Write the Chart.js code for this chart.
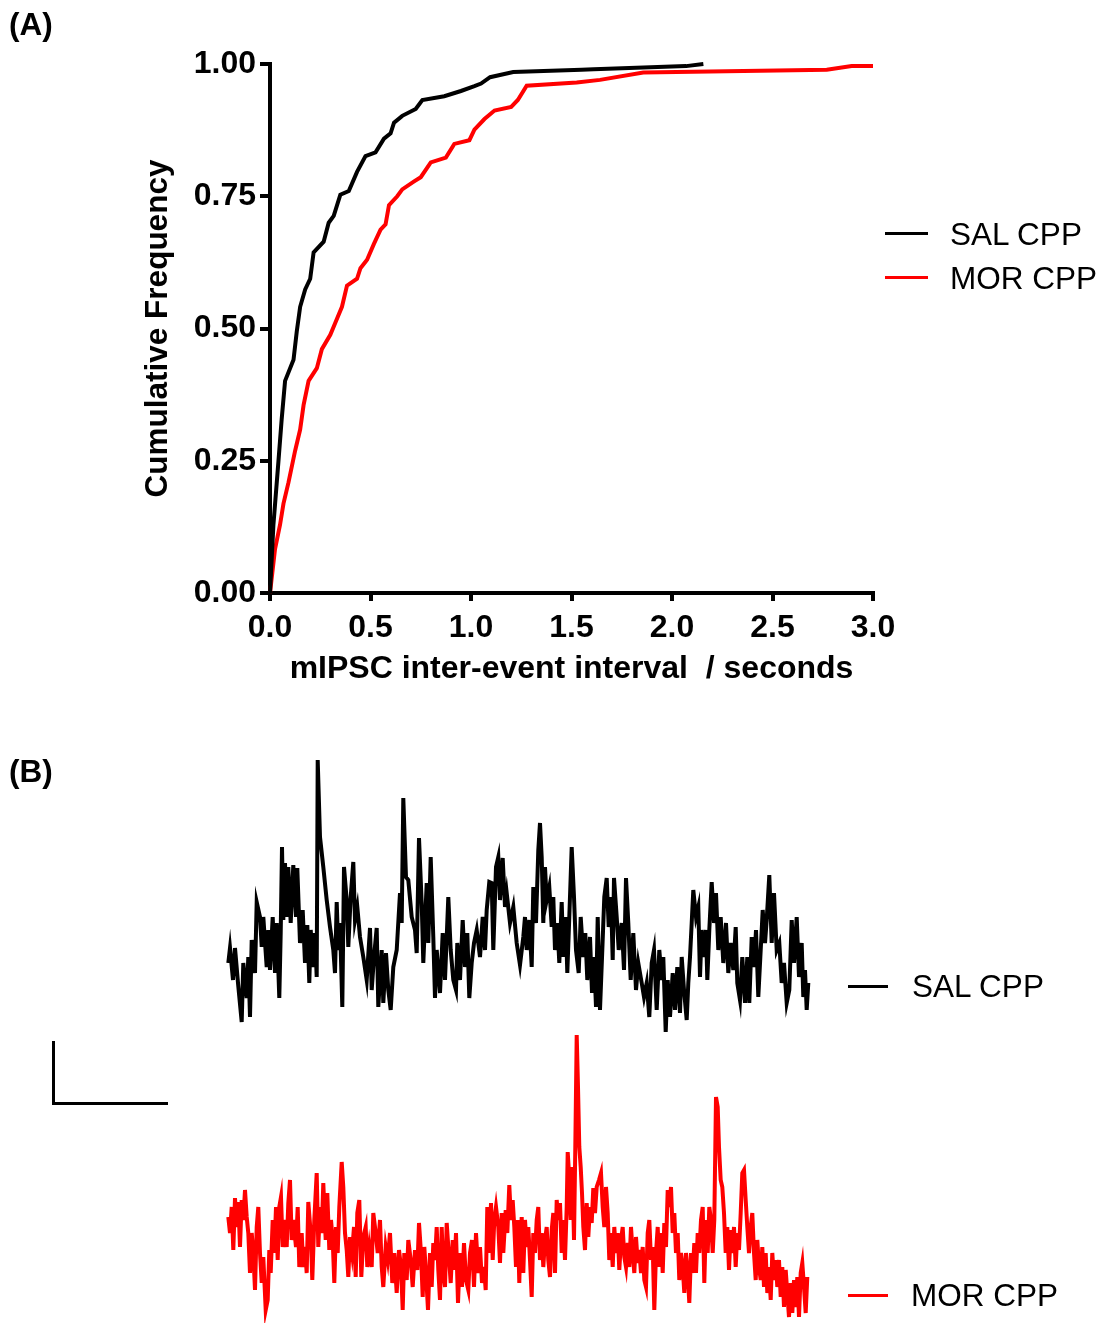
<!DOCTYPE html>
<html>
<head>
<meta charset="utf-8">
<script src="https://cdn.jsdelivr.net/npm/chart.js@4.4.1/dist/chart.umd.min.js"></script>
<style>
  html, body { margin: 0; padding: 0; background: #fff; }
  #wrap { position: relative; width: 1101px; height: 1323px; overflow: hidden; font-family: "Liberation Sans", Arial, sans-serif; }
  canvas { position: absolute; left: 0; }
  .lbl { position: absolute; font-size: 31.5px; line-height: 36px; color: #000; white-space: pre; }
  .bold { font-weight: bold; }
  .bar { position: absolute; }
</style>
</head>
<body>
<div id="wrap">
  <canvas id="chartA" width="1101" height="700" style="top:0"></canvas>
  <canvas id="chartB" width="1101" height="623" style="top:700px"></canvas>

  <div class="lbl bold" style="left:9px; top:6px;">(A)</div>
  <div class="lbl bold" style="left:9px; top:753px;">(B)</div>

  <!-- legend, panel A -->
  <div class="bar" style="left:885px; top:232px; width:43px; height:3px; background:#000;"></div>
  <div class="lbl" style="left:950px; top:216px;">SAL CPP</div>
  <div class="bar" style="left:885px; top:276px; width:43px; height:3px; background:#ff0000;"></div>
  <div class="lbl" style="left:950px; top:260px;">MOR CPP</div>

  <!-- legend, panel B -->
  <div class="bar" style="left:848px; top:985px; width:40px; height:3px; background:#000;"></div>
  <div class="lbl" style="left:912px; top:968px;">SAL CPP</div>
  <div class="bar" style="left:848px; top:1294px; width:40px; height:3px; background:#ff0000;"></div>
  <div class="lbl" style="left:911px; top:1277px;">MOR CPP</div>

  <!-- scale bar -->
  <div class="bar" style="left:52px; top:1041px; width:3px; height:64px; background:#000;"></div>
  <div class="bar" style="left:52px; top:1102px; width:116px; height:3px; background:#000;"></div>
</div>

<script>
// ---------- Panel A: cumulative frequency ----------
const salInterval = [0, 0.017, 0.042, 0.058, 0.075, 0.117, 0.133, 0.150, 0.175, 0.200, 0.217, 0.267, 0.292, 0.317, 0.350, 0.392, 0.433, 0.475, 0.525, 0.567, 0.600, 0.617, 0.658, 0.725, 0.758, 0.867, 0.950, 1.017, 1.050, 1.095, 1.210, 1.550, 1.610, 2.070, 2.156];
const salCumFreq = [0, 0.129, 0.249, 0.328, 0.401, 0.441, 0.494, 0.541, 0.574, 0.594, 0.644, 0.664, 0.700, 0.713, 0.753, 0.760, 0.796, 0.826, 0.833, 0.859, 0.869, 0.889, 0.902, 0.915, 0.932, 0.939, 0.949, 0.958, 0.963, 0.975, 0.985, 0.989, 0.990, 0.996, 1.000];

const morInterval = [0, 0.025, 0.050, 0.067, 0.092, 0.125, 0.150, 0.167, 0.192, 0.233, 0.258, 0.300, 0.325, 0.358, 0.383, 0.433, 0.450, 0.483, 0.517, 0.550, 0.575, 0.592, 0.633, 0.658, 0.717, 0.750, 0.800, 0.875, 0.917, 0.992, 1.017, 1.067, 1.117, 1.200, 1.233, 1.277, 1.526, 1.642, 1.857, 2.770, 2.894, 3.000];
const morCumFreq = [0, 0.083, 0.129, 0.169, 0.209, 0.269, 0.309, 0.355, 0.401, 0.425, 0.461, 0.488, 0.511, 0.541, 0.581, 0.594, 0.614, 0.630, 0.660, 0.687, 0.697, 0.733, 0.750, 0.763, 0.778, 0.786, 0.814, 0.823, 0.849, 0.856, 0.876, 0.896, 0.912, 0.919, 0.932, 0.959, 0.965, 0.970, 0.984, 0.989, 0.996, 0.996];

const xTickValues = [0, 0.5, 1.0, 1.5, 2.0, 2.5, 3.0];
const yTickValues = [0, 0.25, 0.5, 0.75, 1.0];

// ---------- Panel B: example traces (time, amplitude) ----------
const salTime = [0.3,2,5,7,10,13.7,15.3,18.7,20.3,22,23.7,27,28.7,32,33.7,35.3,38.7,40.3,42,44.7,47,48.7,51.3,52.7,54,55.3,57,58.7,60.3,62.7,65.3,68,69.3,72,74.7,77,79.3,81.3,82.7,85.3,87,88.7,89.7,92,95.3,98.7,102,105.3,107,108.7,110.3,112,114.3,116,118.7,120.3,122.7,125.3,127,129.3,132,135.3,138.7,142,143.7,146,148.7,150.3,153.7,155.3,158,160.3,162.7,165.3,168.7,172,173.7,175.3,178,180.3,183.7,187,188.7,191,193.7,195.3,198.7,200.3,202.7,205.3,207,208.7,212,214.7,217,220.3,222.7,225.3,228,229.3,232,234.7,237,239.3,241.3,243.7,246,248.7,252,254.7,257,258.7,261.3,263.7,265.3,268,270.3,272,274.7,277,278.7,282,285.3,288.7,292,295.3,297,298.7,301.3,303.7,305.3,308,310.3,312,313.7,315.3,317,318.7,321.3,323.7,325.3,327,329.3,331.3,333.7,335.3,337.7,339.3,341.3,343.7,346,348,350.7,352.7,355.3,357.3,359.3,362,364,366,368,369.7,372,374.3,376.3,378.7,380.7,383,384.7,386,388.7,390.7,393.7,396,398,400.3,402.7,405.3,408,410.3,413.7,416,418.7,421.3,423.7,426,428.7,431.3,433.7,435.3,437.7,439.7,442,444.7,447,449.3,452,453.7,456,458.7,460.3,462,463.7,465.3,468,470.3,472,473.7,476,478,479.3,481.3,483.7,486,488,490.3,492.7,495.3,498,500.3,502.7,505.3,507.7,509.3,512,514.3,517,519.3,521.3,523.7,526,528,530.3,532.7,534.7,537,538.7,541.3,543.7,546,548.7,551.3,553.7,556,558.7,561.3,563.7,566,568.7,571,573.7,575.3,577,578.7,580.3];
const salAmp = [77,92,60,92,57,18,77,42,83,23,100,67,138,123,93,123,73,110,70,123,67,117,42,107,193,120,177,123,173,117,175,123,172,97,130,77,115,57,110,73,107,63,280,203,173,140,113,90,67,138,90,117,33,173,140,93,143,178,120,133,103,83,60,112,50,83,112,33,90,37,87,50,30,73,90,147,117,242,163,160,123,110,87,202,137,77,157,97,183,103,42,90,47,107,60,143,90,60,50,97,60,120,73,107,42,77,97,110,83,123,90,130,158,157,90,173,183,140,182,133,147,117,133,97,75,103,123,90,120,73,153,117,190,217,183,117,173,140,153,113,143,90,117,77,138,83,123,67,123,193,143,90,67,123,83,107,60,103,47,83,33,123,30,90,143,162,113,143,80,162,123,90,117,70,162,117,60,107,50,77,57,43,57,23,77,90,30,90,60,83,8,60,23,67,30,73,27,83,50,20,57,83,117,150,123,133,63,110,83,110,60,110,158,117,147,90,123,77,117,67,97,70,113,57,40,83,37,83,37,103,73,110,43,90,130,97,120,165,97,147,90,97,57,77,37,50,120,77,123,63,97,43,70,30,57];

const morTime = [0.3,2,3.7,5.3,7,8.7,10.3,12,13.7,15.3,17,18.7,20.3,22,23.7,25.3,27,28.7,30.3,32,33.7,35.3,37.7,39.7,41.3,42.7,44.7,46.3,48,49.7,51.3,53,54.7,57,58.7,60.3,62,63.7,65.3,68,69.7,71.3,73.7,75.3,77,78.7,80.3,82.7,84.3,86.3,88.7,90.3,92,93.7,95.3,97.7,99.3,101.3,103,104.7,106.3,108,109.7,111.3,113.7,115.3,117,118.7,120.3,122,124,126,127.7,129.3,131.3,133.3,135.3,137.7,139.3,141.3,143.7,145.3,147.7,149.7,152,153.7,155.3,157.7,159.7,162,164.3,166.3,168.7,171,173,174.7,176.3,178.7,180.3,182.7,184.7,187,189.3,191,193,194.7,196.3,198,200,202,203.7,205.3,207,208.7,210.3,212,213.7,215.3,217,218.7,220.7,222.7,224.7,226.3,228,230,232,234,236,238,240.3,242,244,246,248,250.3,252,254,256,257.7,259.3,261.3,263,264.7,266.3,268,270.3,272,273.7,275.3,277.7,279.3,281.3,283,284.7,286.3,288,289.7,291.3,292,293.7,295.3,297,298.7,300.3,302,303.7,305.3,307,308.7,310.3,312,313.7,315.3,317,318.7,320.3,322,323.7,325.3,327,328.7,330.3,332,333.7,335.3,337,338.7,339.7,341,342.7,344.3,346,347.3,348.7,350,351.3,352.7,354,355.3,357,358.7,360.3,362,363.7,365.3,367,368.7,371,373,374.7,376.3,378,379.7,381.3,383,384.7,386.3,388,389.7,391.3,393,394.7,396.3,398,399.7,401.3,403,404.7,406.3,408,409.7,411.3,413,414.7,416.3,418,419.7,421.3,423,424.7,426.3,428,429.7,431.3,433,434.7,436.3,438,439.7,441.3,443,444.7,446.3,448,449.7,451.3,453,454.7,456.3,458,459.7,461.3,463,464.7,466.3,468,469.7,471.3,473,474.7,476.3,478,479.7,481.3,483,484.7,486.3,488,489.7,491,492.7,494.3,496,497.7,499.3,501,502.7,504.3,506,507.7,509.3,511,512.7,514.3,516,517.7,519.3,521,522.7,524.3,526,527.7,529.3,531,532.7,534.3,536,537.7,539.3,541,542.7,544.3,546,547.7,549.3,551,552.7,554.3,556,557.7,559.3,561,562.7,564.3,566,567.7,569.3,571,572.7,574.3,576,577.7,579.3];
const morAmp = [113,97,123,80,132,103,128,83,130,110,140,113,97,57,97,77,40,103,123,77,47,73,20,30,80,57,110,77,123,70,123,133,83,110,83,127,150,90,110,83,123,63,97,63,83,57,128,97,50,110,157,83,123,97,147,90,137,80,110,90,47,103,77,123,168,143,97,80,53,93,77,103,53,117,130,53,93,103,63,83,63,117,97,77,110,63,43,83,70,97,47,77,37,80,63,20,77,50,90,70,43,80,60,107,77,33,83,57,20,77,43,87,70,103,60,30,103,57,43,107,77,47,90,60,97,27,77,43,87,50,40,77,90,43,97,57,83,47,63,40,123,77,127,70,110,123,103,67,117,77,120,97,145,110,130,103,63,110,47,77,113,57,110,83,103,70,33,97,77,110,123,70,97,63,90,103,70,53,100,117,57,130,110,127,77,110,70,123,178,157,110,163,90,183,295,243,183,163,137,103,80,127,93,123,107,142,117,143,150,157,123,103,143,117,70,97,63,103,77,97,60,90,103,73,63,87,63,103,77,57,93,67,80,57,83,50,43,97,110,70,83,20,77,103,63,97,57,107,83,140,123,143,97,117,77,97,50,77,63,37,77,57,27,77,57,87,57,97,77,110,123,47,110,77,123,110,77,110,233,223,183,150,143,117,77,103,60,100,77,103,63,97,80,117,157,160,130,103,77,103,117,77,50,90,63,50,83,43,77,37,63,30,77,50,70,43,70,33,63,23,60,37,13,47,17,50,23,53,13,57,67,43,17,53];

const FONT = '"Liberation Sans", Arial, sans-serif';

function pts(xs, ys) { return xs.map((x, i) => ({ x: x, y: ys[i] })); }

Chart.defaults.font.family = FONT;
Chart.defaults.color = '#000';

new Chart(document.getElementById('chartA'), {
  type: 'line',
  data: {
    datasets: [
      { label: 'SAL CPP', data: pts(salInterval, salCumFreq), borderColor: '#000000', borderWidth: 4, pointRadius: 0, tension: 0, clip: false },
      { label: 'MOR CPP', data: pts(morInterval, morCumFreq), borderColor: '#ff0000', borderWidth: 4, pointRadius: 0, tension: 0, clip: false }
    ]
  },
  options: {
    responsive: false,
    animation: false,
    devicePixelRatio: 1,
    layout: { padding: { left: 135, right: 228, top: 64, bottom: 8 } },
    plugins: { legend: { display: false }, tooltip: { enabled: false } },
    scales: {
      x: {
        type: 'linear', min: 0, max: 3,
        afterBuildTicks: s => { s.ticks = xTickValues.map(v => ({ value: v })); },
        afterFit: s => { s.height = 99; },
        ticks: { callback: v => Number(v).toFixed(1), font: { size: 32, weight: 'bold' }, color: '#000', padding: 8, maxRotation: 0, autoSkip: false },
        grid: { drawOnChartArea: false, tickLength: 8, lineWidth: 4, color: '#000', tickColor: '#000' },
        border: { width: 4, color: '#000' },
        title: { display: true, text: 'mIPSC inter-event interval  / seconds', font: { size: 32, weight: 'bold' }, color: '#000', padding: { top: 4, bottom: 4 } }
      },
      y: {
        min: 0, max: 1,
        afterBuildTicks: s => { s.ticks = yTickValues.map(v => ({ value: v })); },
        afterFit: s => { s.width = 135; },
        ticks: { callback: v => Number(v).toFixed(2), font: { size: 32, weight: 'bold' }, color: '#000', padding: 4, autoSkip: false },
        grid: { drawOnChartArea: false, tickLength: 10, lineWidth: 4, color: '#000', tickColor: '#000' },
        border: { width: 4, color: '#000' },
        title: { display: true, text: 'Cumulative Frequency', font: { size: 31.5, weight: 'bold' }, color: '#000', padding: { top: 4, bottom: 4 } }
      }
    }
  }
});

new Chart(document.getElementById('chartB'), {
  type: 'line',
  data: {
    datasets: [
      { label: 'SAL CPP', data: pts(salTime, salAmp), yAxisID: 'ySal', borderColor: '#000000', borderWidth: 4, pointRadius: 0, tension: 0, clip: false },
      { label: 'MOR CPP', data: pts(morTime, morAmp), yAxisID: 'yMor', borderColor: '#ff0000', borderWidth: 4, pointRadius: 0, tension: 0, clip: false }
    ]
  },
  options: {
    responsive: false,
    animation: false,
    devicePixelRatio: 1,
    layout: { padding: 0 },
    plugins: { legend: { display: false }, tooltip: { enabled: false } },
    scales: {
      x: { type: 'linear', min: -228, max: 873, display: false },
      ySal: { type: 'linear', min: -283, max: 340, display: false },
      yMor: { type: 'linear', min: 7, max: 630, display: false }
    }
  }
});
</script>
</body>
</html>
